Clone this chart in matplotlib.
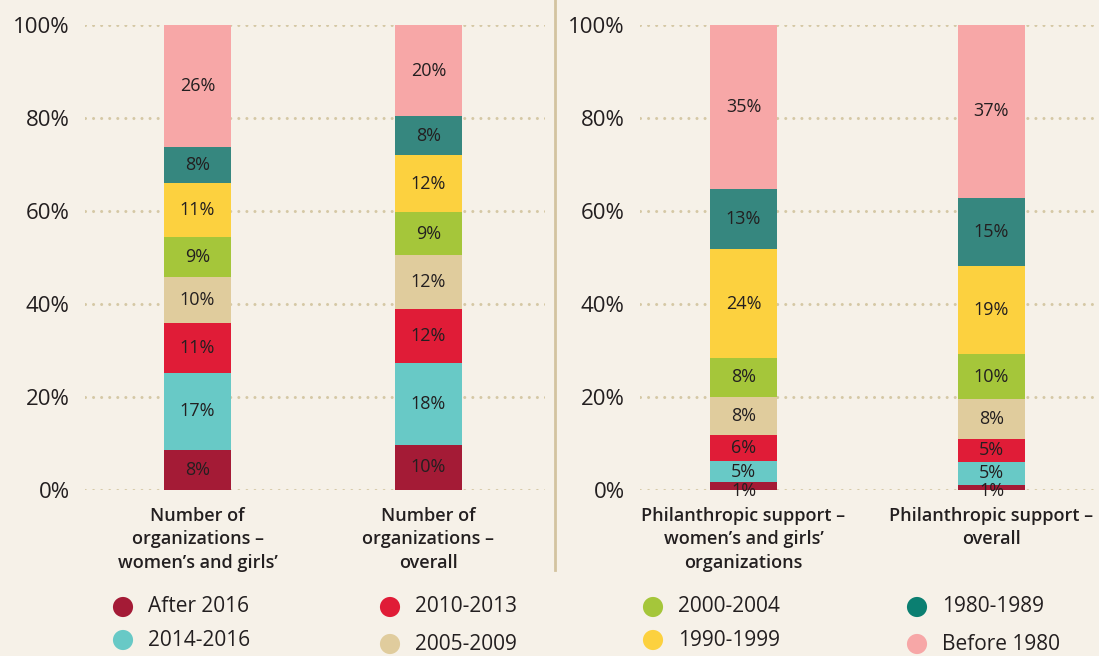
import matplotlib
matplotlib.use("Agg")
import matplotlib.pyplot as plt
from matplotlib.lines import Line2D

plt.rcParams["font.family"] = ["Open Sans", "DejaVu Sans"]
plt.rcParams["lines.scale_dashes"] = False

# founding period of the organizations, bottom to top of each bar
periods = ["After 2016", "2014-2016", "2010-2013", "2005-2009",
           "2000-2004", "1990-1999", "1980-1989", "Before 1980"]
bar_colors = ["#a41b36", "#68c9c6", "#e01c37", "#e0cc9d",
              "#a5c63a", "#fcd13f", "#36877f", "#f7a7a7"]
dot_colors = ["#a41b36", "#68c9c6", "#e01c37", "#e0cc9d",
              "#a5c63a", "#fcd13f", "#0b7f71", "#f7a7a7"]

# shares (%)
orgs_womens = [8.6, 16.6, 10.7, 9.9, 8.6, 11.6, 7.8, 26.2]
orgs_overall = [9.7, 17.6, 11.6, 11.6, 9.3, 12.2, 8.4, 19.6]
support_womens = [1.7, 4.5, 5.6, 8.2, 8.4, 23.4, 12.9, 35.3]
support_overall = [1.1, 4.9, 5.0, 8.6, 9.6, 19.0, 14.6, 37.2]

# printed segment labels
labels_orgs_womens = [8, 17, 11, 10, 9, 11, 8, 26]
labels_orgs_overall = [10, 18, 12, 12, 9, 12, 8, 20]
labels_support_womens = [1, 5, 6, 8, 8, 24, 13, 35]
labels_support_overall = [1, 5, 5, 8, 10, 19, 15, 37]

left_categories = ["Number of\norganizations \u2013\nwomen\u2019s and girls\u2019",
                   "Number of\norganizations \u2013\noverall"]
right_categories = ["Philanthropic support \u2013\nwomen\u2019s and girls\u2019\norganizations",
                    "Philanthropic support \u2013\noverall"]

y_ticks = [0, 20, 40, 60, 80, 100]
y_tick_labels = ["0%", "20%", "40%", "60%", "80%", "100%"]

BG = "#f6f1e8"
INK = "#231f20"
GRID = "#d5c8a5"
W, H = 1099, 656


def draw_panel(ax, bars, bar_labels, categories, xlim, width):
    ax.set_facecolor("none")
    x = list(range(len(bars)))
    for i, (vals, labs) in enumerate(zip(bars, bar_labels)):
        bottom = 0
        for v, lab, c in zip(vals, labs, bar_colors):
            ax.bar(x[i], v, bottom=bottom, width=width, color=c, zorder=2)
            # very thin slices get their label hung on the baseline
            ty = bottom + v / 2 if v >= 3 else bottom - 0.2
            ax.text(x[i], ty, f"{lab}%", ha="center", va="center",
                    fontsize=13, color=INK, zorder=3)
            bottom += v
    ax.set_xlim(*xlim)
    ax.set_ylim(0, 100)
    ax.set_yticks(y_ticks)
    ax.set_yticklabels(y_tick_labels, fontsize=16, color=INK)
    ax.set_xticks([])
    ax.tick_params(axis="y", length=0, pad=11)
    for s in ax.spines.values():
        s.set_visible(False)
    ax.set_axisbelow(True)
    ax.yaxis.grid(True, color=GRID, linewidth=2.2,
                  linestyle=(0, (0.01, 5.8)), dash_capstyle="round")
    for i, cat in enumerate(categories):
        ax.annotate(cat, xy=(x[i], 0), xytext=(0, -12), textcoords="offset points",
                    ha="center", va="top", fontsize=13, fontweight="semibold",
                    color=INK, linespacing=1.4, annotation_clip=False)


fig = plt.figure(figsize=(W / 100, H / 100), dpi=100)
fig.patch.set_facecolor(BG)

# left panel: plot area 85..545 px, bars centred at 197.5 and 428.5 px
ax1 = fig.add_axes([85 / W, 166 / H, 460 / W, 465 / H])
step1 = 231
draw_panel(ax1, [orgs_womens, orgs_overall],
           [labels_orgs_womens, labels_orgs_overall], left_categories,
           (-(197.5 - 85) / step1, 1 + (545 - 428.5) / step1), 67 / step1)

# right panel: plot area 640..1099 px, bars centred at 743.5 and 991.5 px
ax2 = fig.add_axes([640 / W, 166 / H, 459 / W, 465 / H])
step2 = 248
draw_panel(ax2, [support_womens, support_overall],
           [labels_support_womens, labels_support_overall], right_categories,
           (-(743.5 - 640) / step2, 1 + (1099 - 991.5) / step2), 67 / step2)

# overlay in pixel coordinates for the divider and the legend
ov = fig.add_axes([0, 0, 1, 1])
ov.set_xlim(0, W)
ov.set_ylim(H, 0)
ov.axis("off")
ov.patch.set_visible(False)
ov.add_line(Line2D([555, 555], [0, 570], color="#d3c3a0", linewidth=2))

col_x = [123, 390, 653, 917]
row_y = [607, 640]
for i, (name, c) in enumerate(zip(periods, dot_colors)):
    col, row = i // 2, i % 2
    yy = row_y[row] + (4 if (row == 1 and col % 2 == 1) else 0)
    ov.scatter(col_x[col], yy, s=210, color=c, edgecolors="none")
    ov.text(col_x[col] + 25, yy, name, ha="left", va="center",
            fontsize=15, fontweight="medium", color=INK)

fig.savefig("out.png", dpi=100, facecolor=BG)
